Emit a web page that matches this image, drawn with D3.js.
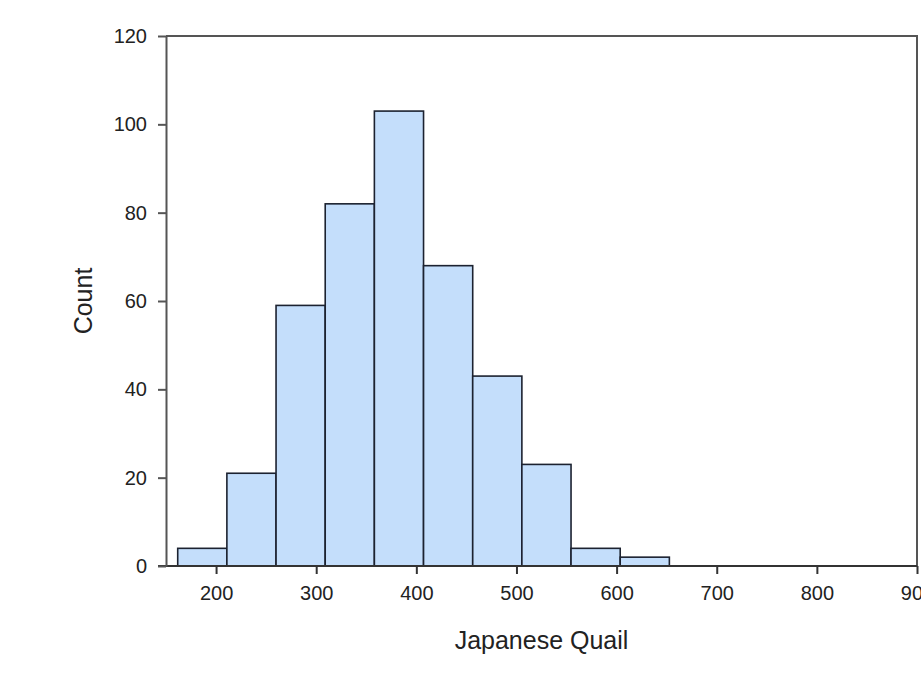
<!DOCTYPE html>
<html>
<head>
<meta charset="utf-8">
<script src="https://cdn.jsdelivr.net/npm/d3@7/dist/d3.min.js"></script>
<style>
  html, body { margin: 0; padding: 0; background: #fff; }
  svg { display: block; }
  text { font-family: "Liberation Sans", Arial, sans-serif; fill: #222; }
</style>
</head>
<body>
<svg id="chart" width="921" height="683"></svg>
<script>
// Histogram bins (lower/upper edges) and counts
const binStarts = [161.7, 210.8, 259.9, 309.0, 358.1, 407.2, 456.3, 505.4, 554.5, 603.6];
const binEnds   = [210.8, 259.9, 309.0, 358.1, 407.2, 456.3, 505.4, 554.5, 603.6, 652.7];
const counts    = [4, 21, 59, 82, 103, 68, 43, 23, 4, 2];
const xTicks = [200, 300, 400, 500, 600, 700, 800, 900];
const yTicks = [0, 20, 40, 60, 80, 100, 120];
const xTitle = "Japanese Quail";
const yTitle = "Count";

const svg = d3.select("#chart");
const plotLeft = 166, plotRight = 917, plotTop = 36, plotBottom = 566;

const x = d3.scaleLinear().domain([150, 900]).range([plotLeft, plotRight]);
const y = d3.scaleLinear().domain([0, 120]).range([plotBottom, plotTop]);

const bins = counts.map((c, i) => ({ x0: binStarts[i], x1: binEnds[i], n: c }));

// bars
svg.append("g").selectAll("rect").data(bins).join("rect")
  .attr("x", d => x(d.x0))
  .attr("y", d => y(d.n))
  .attr("width", d => x(d.x1) - x(d.x0))
  .attr("height", d => y(0) - y(d.n))
  .attr("fill", "#c4defb")
  .attr("stroke", "#1c2230")
  .attr("stroke-width", 1.6);

// frame (top and right)
svg.append("path")
  .attr("d", `M${plotLeft},${plotTop}H${plotRight}V${plotBottom}`)
  .attr("fill", "none").attr("stroke", "#555").attr("stroke-width", 2);

// x axis
const xAxis = svg.append("g").attr("transform", `translate(0,${plotBottom})`)
  .call(d3.axisBottom(x).tickValues(xTicks).tickSize(8).tickPadding(12).tickSizeOuter(0));
xAxis.select(".domain").attr("stroke", "#333").attr("stroke-width", 2)
  .attr("d", `M${plotLeft - 8},0H${plotRight}`);
xAxis.selectAll(".tick line").attr("stroke", "#333").attr("stroke-width", 2);
xAxis.selectAll(".tick text").style("font-size", "20px").style("font-family", "'Liberation Sans', Arial, sans-serif").attr("fill", "#222");

// y axis
const yAxis = svg.append("g").attr("transform", `translate(${plotLeft},0)`)
  .call(d3.axisLeft(y).tickValues(yTicks).tickSize(8).tickPadding(11).tickSizeOuter(0));
yAxis.select(".domain").attr("stroke", "#555").attr("stroke-width", 2);
yAxis.selectAll(".tick line").attr("stroke", "#555").attr("stroke-width", 2);
yAxis.selectAll(".tick text").style("font-size", "20px").style("font-family", "'Liberation Sans', Arial, sans-serif").attr("fill", "#222");

// axis titles
svg.append("text")
  .attr("x", (plotLeft + plotRight) / 2).attr("y", 649)
  .attr("text-anchor", "middle")
  .style("font-size", "25px")
  .text(xTitle);

svg.append("text")
  .attr("transform", `translate(92,${(plotTop + plotBottom) / 2}) rotate(-90)`)
  .attr("text-anchor", "middle")
  .style("font-size", "25px")
  .text(yTitle);
</script>
</body>
</html>
